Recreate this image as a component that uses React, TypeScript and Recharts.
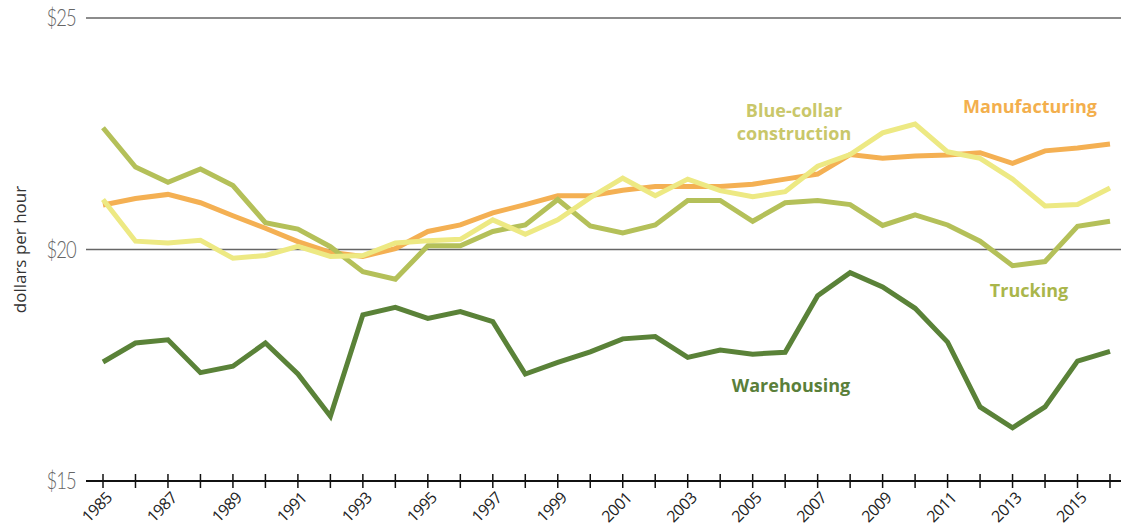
import React from 'react';
import { LineChart, Line, XAxis, YAxis, CartesianGrid } from 'recharts';

const years = [1985,1986,1987,1988,1989,1990,1991,1992,1993,1994,1995,1996,1997,1998,1999,2000,2001,2002,2003,2004,2005,2006,2007,2008,2009,2010,2011,2012,2013,2014,2015,2016];

const manufacturing = [20.96,21.10,21.19,21.01,20.73,20.46,20.17,19.94,19.85,20.02,20.39,20.53,20.79,20.97,21.16,21.16,21.28,21.36,21.36,21.36,21.41,21.52,21.63,22.05,21.97,22.02,22.04,22.09,21.86,22.13,22.19,22.28];
const construction = [21.08,20.18,20.14,20.20,19.81,19.87,20.07,19.85,19.87,20.14,20.19,20.22,20.64,20.33,20.64,21.12,21.54,21.16,21.52,21.27,21.14,21.25,21.80,22.05,22.52,22.71,22.11,21.97,21.52,20.94,20.97,21.33];
const trucking = [22.63,21.78,21.45,21.74,21.38,20.58,20.44,20.06,19.52,19.36,20.08,20.08,20.39,20.53,21.08,20.51,20.36,20.53,21.06,21.06,20.61,21.01,21.06,20.97,20.52,20.75,20.53,20.18,19.65,19.74,20.50,20.61];
const warehousing = [17.57,17.98,18.05,17.34,17.48,17.98,17.31,16.40,18.59,18.75,18.51,18.66,18.44,17.31,17.56,17.79,18.07,18.12,17.67,17.83,17.74,17.78,19.00,19.50,19.19,18.73,18.00,16.60,16.15,16.60,17.59,17.80];

const yTicks = [15, 20, 25];

const data = years.map((y, i) => ({
  year: y,
  manufacturing: manufacturing[i],
  construction: construction[i],
  trucking: trucking[i],
  warehousing: warehousing[i],
}));

const YearTick = (props: any) => {
  const { x, y, payload } = props;
  const yr = payload.value as number;
  const showLabel = (yr - 1985) % 2 === 0;
  const ax = x + 10;
  const ay = y + 18;
  return (
    <g>
      <line x1={x} x2={x} y1={y - 7} y2={y + 7} stroke="#111" strokeWidth={1.5} />
      {showLabel && (
        <text
          x={ax}
          y={ay}
          transform={`rotate(-45 ${ax} ${ay})`}
          textAnchor="end"
          fontSize={16}
          fill="#222"
          fontFamily="'Open Sans', sans-serif"
          letterSpacing={-0.6}
        >
          {yr}
        </text>
      )}
    </g>
  );
};

const DollarTick = (props: any) => {
  const { x, y, payload } = props;
  return (
    <text
      x={0}
      y={0}
      dy={8}
      transform={`translate(${x} ${y}) scale(0.8 1)`}
      textAnchor="end"
      fontSize={23}
      fill="#666"
      fontFamily="Lato, sans-serif"
      fontWeight={300}
      letterSpacing={-1}
    >
      ${payload.value}
    </text>
  );
};

export default function App() {
  const labelStyle = { fontFamily: "'Open Sans', sans-serif", fontWeight: 700, fontSize: 18 } as const;
  return (
    <div style={{ position: 'absolute', left: 0, top: 0, width: 1121, height: 531, background: '#fff' }}>
      <LineChart width={1121} height={531} data={data} margin={{ top: 18, right: 0, bottom: 0, left: 0 }}>
        <CartesianGrid horizontal={true} vertical={false} stroke="#666" strokeWidth={1.5} />
        <XAxis
          dataKey="year"
          interval={0}
          height={50}
          padding={{ left: 17, right: 11 }}
          axisLine={{ stroke: '#111', strokeWidth: 2 }}
          tickLine={false}
          tickSize={0}
          tickMargin={0}
          tick={<YearTick />}
        />
        <YAxis
          type="number"
          domain={[15, 25]}
          ticks={yTicks}
          width={86}
          axisLine={false}
          tickLine={false}
          tickSize={0}
          tickMargin={10}
          tick={<DollarTick />}
          label={{ value: 'dollars per hour', angle: -90, position: 'insideLeft', offset: 20, style: { textAnchor: 'middle', fontFamily: "'Open Sans', sans-serif", fontSize: 17, fill: '#333' } }}
        />
        <Line dataKey="manufacturing" stroke="#f4b053" strokeWidth={5} dot={false} isAnimationActive={false} strokeLinejoin="miter" />
        <Line dataKey="trucking" stroke="#b4c059" strokeWidth={5} dot={false} isAnimationActive={false} strokeLinejoin="miter" />
        <Line dataKey="construction" stroke="#ede983" strokeWidth={5} dot={false} isAnimationActive={false} strokeLinejoin="miter" />
        <Line dataKey="warehousing" stroke="#5a8238" strokeWidth={5} dot={false} isAnimationActive={false} strokeLinejoin="miter" />
        <text x={1030} y={113} textAnchor="middle" fill="#f3af4d" style={labelStyle}>Manufacturing</text>
        <text x={794} y={117} textAnchor="middle" fill="#c9c76a" style={labelStyle}>Blue-collar</text>
        <text x={794} y={140} textAnchor="middle" fill="#c9c76a" style={labelStyle}>construction</text>
        <text x={1029} y={297} textAnchor="middle" fill="#aab64b" style={labelStyle}>Trucking</text>
        <text x={791} y={392} textAnchor="middle" fill="#5a7f3a" style={labelStyle}>Warehousing</text>
      </LineChart>
    </div>
  );
}
